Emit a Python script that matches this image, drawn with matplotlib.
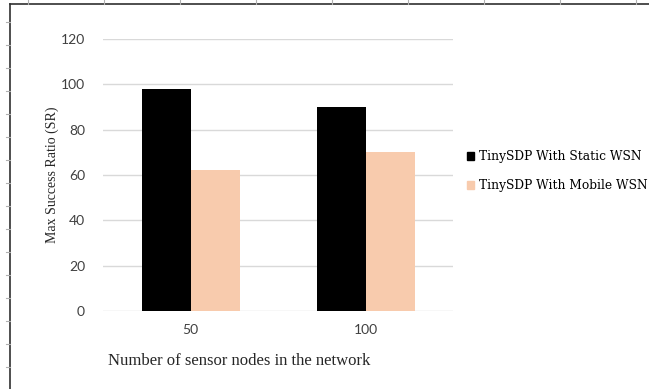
import numpy as np
import matplotlib.pyplot as plt
from matplotlib.patches import Patch
from matplotlib.lines import Line2D

# Datos de la grafica
categorias = ['50', '100']
serie_estatica = [98, 90]
serie_movil = [62, 70]
nombres = ['TinySDP With Static WSN', 'TinySDP With Mobile WSN']
ticks_y = [0, 20, 40, 60, 80, 100, 120]

W, H = 649, 389
fig = plt.figure(figsize=(W / 100, H / 100), dpi=100)

ax = fig.add_axes([103 / W, 1 - 311 / H, 350 / W, 272 / H])
x = np.arange(len(categorias))
ancho = 0.28
ax.bar(x - ancho / 2, serie_estatica, ancho, color='black', zorder=3)
ax.bar(x + ancho / 2, serie_movil, ancho, color='#f8cbad', zorder=3)

ax.set_xlim(-0.5, 1.5)
ax.set_ylim(0, 120)
ax.set_yticks(ticks_y)
ax.set_xticks(x)
ax.set_xticklabels(categorias)
ax.grid(axis='y', color='#d9d9d9', linewidth=1, zorder=0)
ax.set_axisbelow(True)
for s in ax.spines.values():
    s.set_visible(False)
ax.tick_params(length=0, labelsize=10, labelcolor='#404040')
ax.tick_params(axis='y', pad=13)
ax.tick_params(axis='x', pad=9)
for t in ax.get_xticklabels() + ax.get_yticklabels():
    t.set_fontfamily('Lato')
ax.set_ylabel('Max Success Ratio (SR)', fontsize=10, family='Liberation Serif',
              color='#262626', labelpad=1)

fig.text(108 / W, 1 - 361 / H, 'Number of sensor nodes in the network',
         fontsize=12, family='Liberation Serif', color='#262626', va='center')

# Leyenda
handles = [Patch(color='black'), Patch(color='#f8cbad')]
fig.legend(handles, nombres, loc='upper left', bbox_to_anchor=(456 / W, 1 - 139 / H),
           frameon=False, handlelength=0.6, handleheight=0.6, handletextpad=0.35,
           labelspacing=1.35, prop={'family': 'DejaVu Serif', 'size': 8.8})

# Borde de la hoja
fig.add_artist(Line2D([10 / W, 10 / W], [0, 1 - 4 / H], color='#303030', lw=1.2))
fig.add_artist(Line2D([10 / W, 1], [1 - 4 / H, 1 - 4 / H], color='#303030', lw=1.2))
for px in np.arange(28, W, 76):
    fig.add_artist(Line2D([px / W, px / W], [1 - 4 / H, 1], color='#b0b0b0', lw=0.8))
for py in np.arange(22, H, 23):
    fig.add_artist(Line2D([6 / W, 10 / W], [1 - py / H, 1 - py / H], color='#b0b0b0', lw=0.8))

fig.savefig('out.png', dpi=100)
